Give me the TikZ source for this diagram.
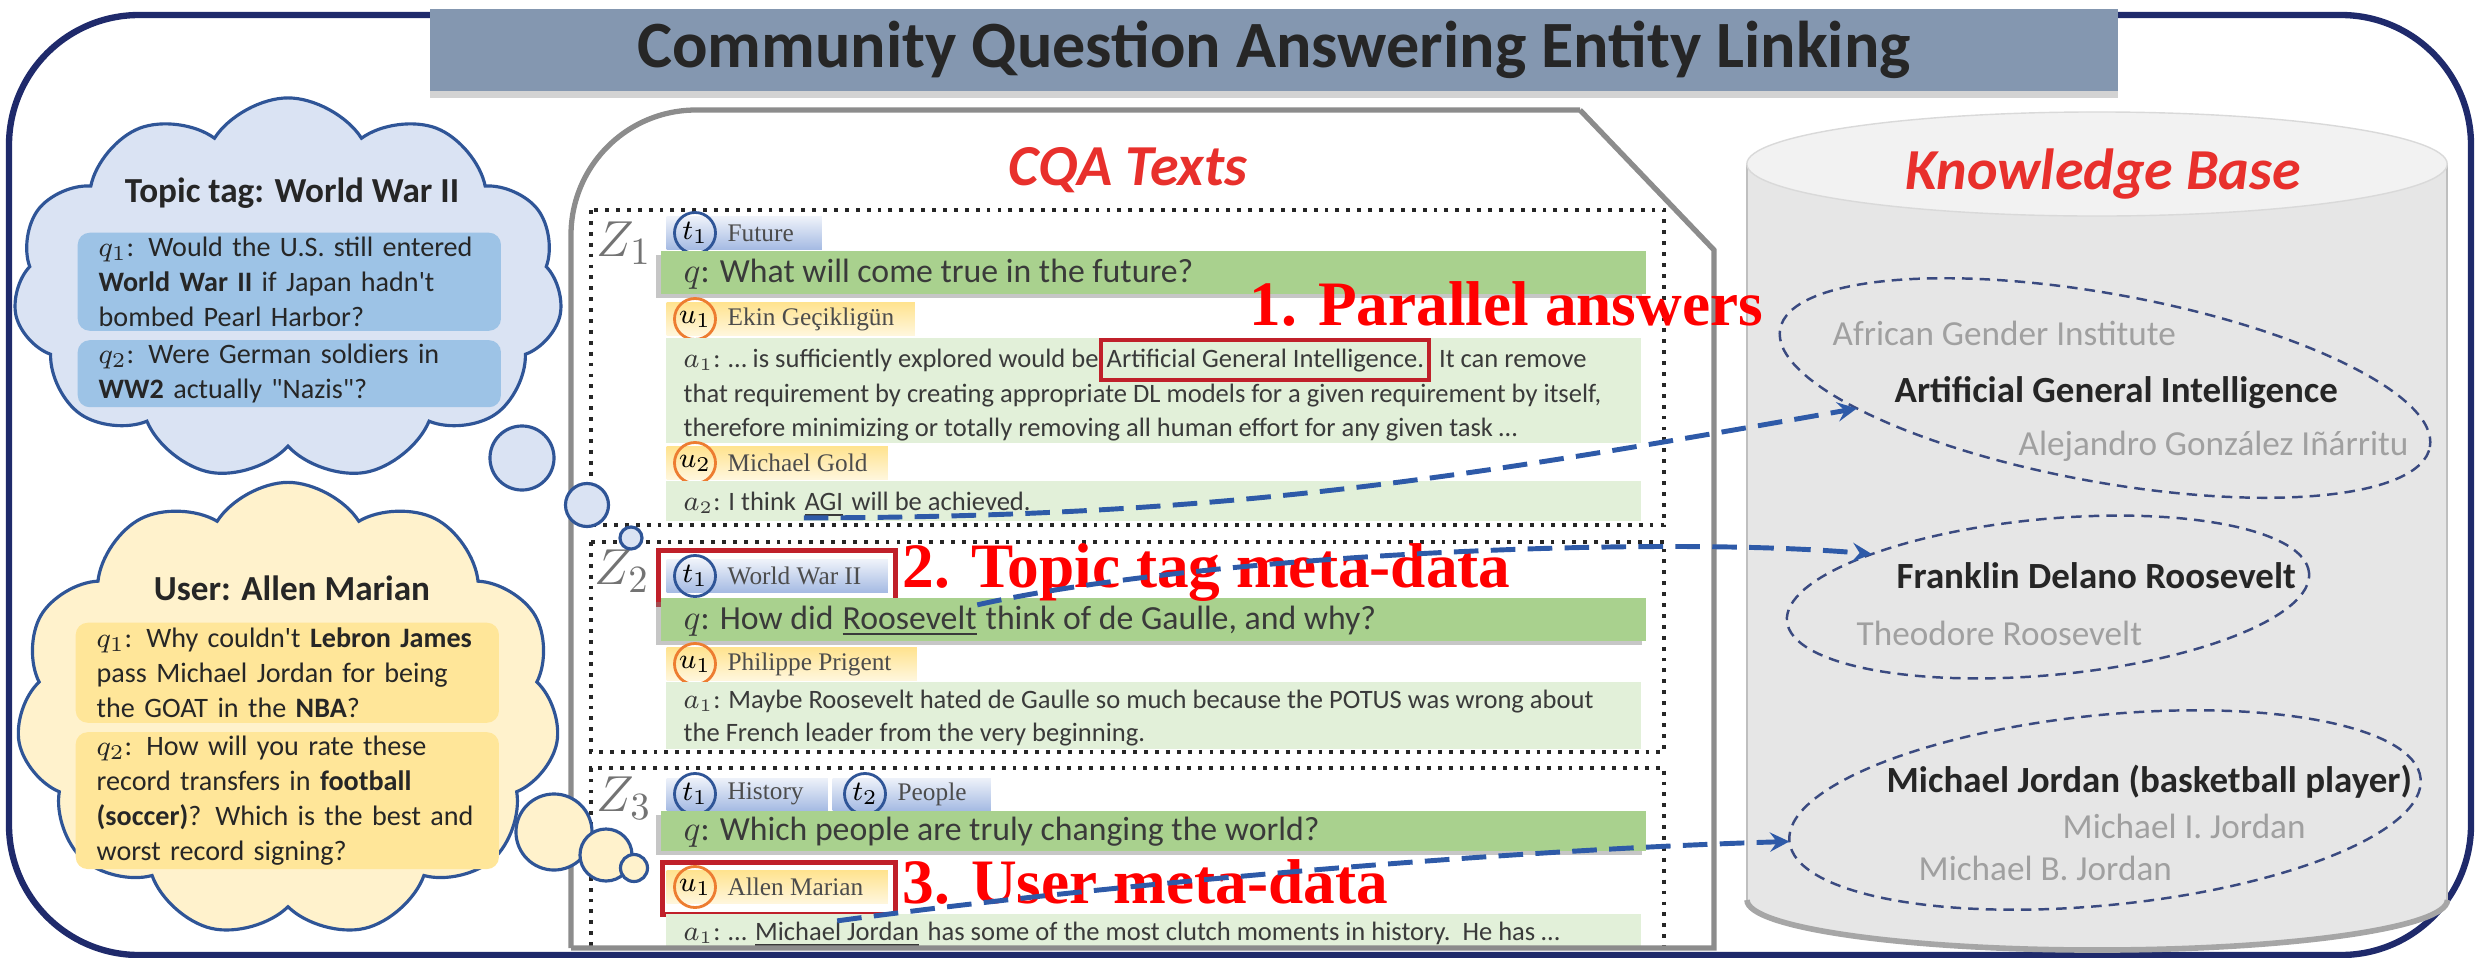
\documentclass[tikz,border=0pt]{standalone}
\usepackage{fontspec}
\setmainfont{Carlito}[Ligatures=TeXOff]
\newfontfamily\timesfont{Liberation Serif}
\usepackage{tikz}
\usetikzlibrary{positioning, shapes.geometric, shapes.symbols, shadows, arrows}

\definecolor{framenavy}{HTML}{1F2A6B}
\definecolor{titlefill}{HTML}{8497B0}
\definecolor{cloudblue}{HTML}{DAE3F3}
\definecolor{cloudline}{HTML}{2F5597}
\definecolor{qblue}{HTML}{9DC3E6}
\definecolor{cloudyellow}{HTML}{FFF2CC}
\definecolor{qyellow}{HTML}{FFE699}
\definecolor{qgreen}{HTML}{A9D18E}
\definecolor{agreen}{HTML}{E2F0D9}
\definecolor{tagblue}{HTML}{A6BBE3}
\definecolor{tagyellow}{HTML}{FFE38F}
\definecolor{torange}{HTML}{ED7D31}
\definecolor{redbox}{HTML}{C0202A}
\definecolor{titlered}{HTML}{E8302C}
\definecolor{panelgray}{HTML}{8C8C8C}
\definecolor{kbbody}{HTML}{E6E6E6}
\definecolor{kbtop}{HTML}{F2F2F2}
\definecolor{kbedge}{HTML}{BFBFBF}
\definecolor{namegray}{HTML}{A0A0A0}
\definecolor{setline}{HTML}{3A4A80}
\definecolor{linkblue}{HTML}{2E5AA8}
\definecolor{textgray}{HTML}{3A3A3A}

\tikzstyle{word} = [anchor=base west, inner sep=0pt, text=textgray, font=\fontsize{7.55}{9}\selectfont]
\tikzstyle{qword} = [anchor=base west, inner sep=0pt, text=textgray, font=\fontsize{9.6}{11}\selectfont]
\tikzstyle{note} = [anchor=base west, inner sep=0pt, text=red, font=\timesfont\bfseries\fontsize{18}{18}\selectfont]
\tikzstyle{link} = [linkblue, line width=1.4pt, dash pattern=on 7pt off 3.5pt, ->, >=stealth]

\begin{document}
\begin{tikzpicture}[x=0.01cm, y=-0.01cm,
titlebar/.style={fill=titlefill, minimum width=16.87cm, minimum height=0.76cm, font=\bfseries\fontsize{18.8}{19}\selectfont, text=black!85, drop shadow={opacity=0.35, shadow xshift=0pt, shadow yshift=-2pt}},
bigcloud/.style={cloud, cloud puffs=11, cloud puff arc=115, cloud ignores aspect, draw=cloudline, line width=0.9pt, inner sep=0pt},
bubble/.style={circle, draw=cloudline, line width=0.9pt, inner sep=0pt},
cloudtitle/.style={font=\bfseries\fontsize{10}{12}\selectfont, text=black!85},
cbox/.style={rounded corners=0.12cm, anchor=north west, minimum width=4.23cm, text width=3.81cm, inner xsep=0.21cm, inner ysep=1pt, align=left, font=\fontsize{8}{10}\selectfont, text=black!85},
zbox/.style={draw=black!85, dotted, line width=1.1pt},
zlabel/.style={text=black!55, font=\fontsize{15}{15}\selectfont},
tagb/.style={anchor=west, minimum height=0.32cm, inner sep=0pt, top color=white!80!tagblue, bottom color=tagblue},
tagy/.style={anchor=west, minimum height=0.33cm, inner sep=0pt, top color=tagyellow, bottom color=white!70!tagyellow},
tcirc/.style={circle, draw=cloudline, line width=0.8pt, minimum size=0.41cm, inner sep=0pt, font=\fontsize{8.5}{9}\selectfont},
ucirc/.style={tcirc, draw=torange},
tagtxt/.style={inner sep=0pt, text=black!70, font=\timesfont\fontsize{7.2}{8}\selectfont},
qbar/.style={fill=qgreen, anchor=north west, minimum width=9.85cm, inner sep=0pt, drop shadow={opacity=0.45, shadow xshift=-1.2pt, shadow yshift=-1.2pt}},
abox/.style={fill=agreen, anchor=north west, minimum width=9.75cm, inner sep=0pt},
redframe/.style={draw=redbox, line width=1.3pt, anchor=north west, inner sep=0pt},
kbtitle/.style={text=titlered, font=\bfseries\itshape\fontsize{16.5}{18}\selectfont},
kbset/.style={ellipse, draw=setline, line width=0.7pt, dash pattern=on 3pt off 2pt, inner sep=0pt, outer sep=0pt},
kbname/.style={anchor=base west, inner sep=0pt, text=namegray, font=\fontsize{10}{12}\selectfont},
kbmain/.style={anchor=base west, inner sep=0pt, text=black!85, font=\bfseries\fontsize{10.5}{12}\selectfont}
]
\useasboundingbox (0,0) rectangle (2478,957);
% outer frame and title
\draw[framenavy, line width=1.8pt, rounded corners=1.3cm] (9,15) rectangle (2471,955);
\node[titlebar] (title) at (1274,50) {Community Question Answering Entity Linking};

% topic tag cloud
\node[bigcloud, fill=cloudblue, minimum width=5.49cm, minimum height=3.82cm] (topiccloud) at (288,289) {};
\node[cloudtitle] (topictitle) at (292,193) {Topic tag: World War II};
\node[cbox, fill=qblue, minimum height=0.98cm] (tq1) at (77,232) {$q_1$: Would the U.S. still entered\\ \textbf{World War II} if Japan hadn't\\ bombed Pearl Harbor?};
\node[cbox, fill=qblue, minimum height=0.67cm, below=0.08cm of tq1.south west, anchor=north west] (tq2) {$q_2$: Were German soldiers in\\ \textbf{WW2} actually "Nazis"?};

% user cloud
\node[bigcloud, fill=cloudyellow, minimum width=5.43cm, minimum height=4.55cm] (usercloud) at (288,710) {};
\node[cloudtitle] (usertitle) at (292,588) {User: Allen Marian};
\node[cbox, fill=qyellow, minimum height=1.0cm] (uq1) at (75,622) {$q_1$: Why couldn't \textbf{Lebron James}\\ pass Michael Jordan for being\\ the GOAT in the \textbf{NBA}?};
\node[cbox, fill=qyellow, minimum height=1.33cm, below=0.08cm of uq1.south west, anchor=north west] (uq2) {$q_2$: How will you rate these\\ record transfers in \textbf{football}\\ \textbf{(soccer)}? Which is the best and\\ worst record signing?};

% Z1
\draw[zbox] (591,210) rectangle (1664,525);
\node[zlabel] (z1) at (624,243) {$Z_1$};
\node[tagb, minimum width=1.55cm] (z1tb) at (666,233) {};
\node[tcirc] (z1tc) at (695,233) {$t_1$};
\node[tagtxt, right=0.1cm of z1tc] (z1tt) {Future};
\node[qbar, minimum height=0.43cm] (z1q) at (660,250) {};
\node[qword] (z1qt) at (683,282) {$q$: What will come true in the future?};
\node[tagy, minimum width=2.48cm] (z1ub) at (666,319) {};
\node[ucirc] (z1uc) at (695,319) {$u_1$};
\node[tagtxt, right=0.1cm of z1uc] (z1ut) {Ekin Geçikligün};
\node[abox, minimum height=1.05cm] (z1a) at (665,337) {};
\node[word] (z1a1) at (683,367) {$a_1$: … is sufficiently explored would be};
\node[word, draw=redbox, line width=1.2pt, inner xsep=1.5pt, inner ysep=2.5pt] (agiphrase) at (z1a1.base east) {Artificial General Intelligence.};
\node[word] (z1a1c) at ([xshift=2pt]agiphrase.base east) {It can remove};
\node[word] (z1a2) at (683,402) {that requirement by creating appropriate DL models for a given requirement by itself,};
\node[word] (z1a3) at (683,436) {therefore minimizing or totally removing all human effort for any given task …};
\node[tagy, minimum width=2.21cm] (z1vb) at (666,463) {};
\node[ucirc] (z1vc) at (695,463) {$u_2$};
\node[tagtxt, right=0.1cm of z1vc] (z1vt) {Michael Gold};
\node[abox, minimum height=0.40cm] (z1b) at (665,480) {};
\node[word] (z1b1) at (683,510) {$a_2$: I think};
\node[word] (agi) at ([xshift=2pt]z1b1.base east) {\underline{AGI}};
\node[word] (z1b2) at ([xshift=2pt]agi.base east) {will be achieved.};

% Z2
\draw[zbox] (591,542) rectangle (1664,752);
\node[zlabel] (z2) at (622,571) {$Z_2$};
\node[tagb, minimum width=2.21cm] (z2tb) at (666,576) {};
\node[tcirc] (z2tc) at (695,576) {$t_1$};
\node[tagtxt, right=0.1cm of z2tc] (z2tt) {World War II};
\node[redframe, minimum width=2.37cm, minimum height=0.54cm] (z2mark) at (656,548) {};
\node[qbar, minimum height=0.43cm] (z2q) at (660,597) {};
\node[qword] (z2q1) at (683,629) {$q$: How did};
\node[qword] (roos) at ([xshift=2.2pt]z2q1.base east) {\underline{Roosevelt}};
\node[qword] (z2q2) at ([xshift=2.2pt]roos.base east) {think of de Gaulle, and why?};
\node[tagy, minimum width=2.5cm] (z2ub) at (666,664) {};
\node[ucirc] (z2uc) at (695,664) {$u_1$};
\node[tagtxt, right=0.1cm of z2uc] (z2ut) {Philippe Prigent};
\node[abox, minimum height=0.67cm] (z2a) at (665,681) {};
\node[word] (z2a1) at (683,708) {$a_1$: Maybe Roosevelt hated de Gaulle so much because the POTUS was wrong about};
\node[word] (z2a2) at (683,741) {the French leader from the very beginning.};

% Z3
\draw[zbox] (591,946) -- (591,768) -- (1664,768) -- (1664,946);
\node[zlabel] (z3) at (624,798) {$Z_3$};
\node[tagb, minimum width=1.61cm] (z3tb) at (666,794) {};
\node[tcirc] (z3tc) at (695,794) {$t_1$};
\node[tagtxt, right=0.1cm of z3tc] (z3tt) {History};
\node[tagb, minimum width=1.58cm] (z3sb) at (832,794) {};
\node[tcirc] (z3sc) at (865,794) {$t_2$};
\node[tagtxt, right=0.1cm of z3sc] (z3st) {People};
\node[qbar, minimum height=0.40cm] (z3q) at (660,810) {};
\node[qword] (z3qt) at (683,840) {$q$: Which people are truly changing the world?};
\node[tagy, minimum width=2.21cm] (z3ub) at (666,887) {};
\node[ucirc] (z3uc) at (695,887) {$u_1$};
\node[tagtxt, right=0.1cm of z3uc] (z3ut) {Allen Marian};
\node[redframe, minimum width=2.33cm, minimum height=0.52cm] (z3mark) at (660,860) {};
\node[abox, minimum height=0.34cm] (z3a) at (665,913) {};
\node[word] (z3a1) at (683,940) {$a_1$: …};
\node[word] (mj) at ([xshift=2pt]z3a1.base east) {\underline{Michael Jordan}};
\node[word] (z3a2) at ([xshift=2pt]mj.base east) {has some of the most clutch moments in history.\ \ He has …};

% CQA texts panel
\draw[panelgray, line width=1.5pt, rounded corners=1.25cm] (571,948) -- (571,110) -- (1580,110);
\draw[panelgray, line width=1.5pt] (1580,110) -- (1714,250) -- (1714,948) -- (571,948);
\node[kbtitle] (cqatitle) at (1128,170) {CQA Texts};

% thought bubbles
\node[bubble, fill=cloudblue, minimum size=0.64cm] (tb1) at (522,458) {};
\node[bubble, fill=cloudblue, minimum size=0.43cm] (tb2) at (587,505) {};
\node[bubble, fill=cloudblue, minimum size=0.22cm] (tb3) at (631,538) {};
\node[bubble, fill=cloudyellow, minimum size=0.76cm] (ub1) at (554,832) {};
\node[bubble, fill=cloudyellow, minimum size=0.52cm] (ub2) at (606,855) {};
\node[bubble, fill=cloudyellow, minimum size=0.27cm] (ub3) at (634,868) {};

% knowledge base
\fill[kbbody] (1747,164) -- (1747,900) arc[start angle=180, end angle=360, x radius=3.5cm, y radius=0.5cm] -- (2447,164) -- cycle;
\draw[kbedge, line width=0.8pt] (1747,164) -- (1747,900);
\draw[kbedge, line width=0.8pt] (2447,164) -- (2447,900);
\draw[black!35, line width=1.6pt] (1747,900) arc[start angle=180, end angle=360, x radius=3.5cm, y radius=0.5cm];
\filldraw[fill=kbtop, draw=kbedge!60] (2097,164) ellipse [x radius=3.5cm, y radius=0.52cm];
\node[kbtitle] (kbtitle) at (2103,174) {Knowledge Base};

\node[kbset, minimum width=6.6cm, minimum height=1.88cm, rotate=-10.3] (agiset) at (2105,388) {};
\node[kbset, minimum width=5.24cm, minimum height=1.56cm, rotate=5.3] (fdrset) at (2048,597) {};
\node[kbset, minimum width=6.34cm, minimum height=1.9cm, rotate=5.7] (mjset) at (2105,810) {};
\node[kbname] (aginame1) at (1832,345) {African Gender Institute};
\node[kbmain] (aginame2) at (1894,402) {Artificial General Intelligence};
\node[kbname] (aginame3) at (2018,455) {Alejandro González Iñárritu};
\node[kbmain] (fdrname1) at (1896,588) {Franklin Delano Roosevelt};
\node[kbname] (fdrname2) at (1856,645) {Theodore Roosevelt};
\node[kbmain] (mjname1) at (1886,792) {Michael Jordan (basketball player)};
\node[kbname] (mjname2) at (2062,838) {Michael I. Jordan};
\node[kbname] (mjname3) at (1918,880) {Michael B. Jordan};

% notes
\node[note] (n1) at (1249,325) {1. Parallel answers};
\node[note] (n2) at (902,587) {2. Topic tag meta-data};
\node[note] (n3) at (902,903) {3. User meta-data};

% links
\draw[link] (agi.south west) .. controls (1231,517) and (1462,478) .. (agiset.195);
\draw[link] (roos.north east) .. controls (1200,555) and (1650,535) .. (fdrset.161);
\draw[link] (mj.north) .. controls (1100,885) and (1500,850) .. (mjset.180);
\end{tikzpicture}
\end{document}
